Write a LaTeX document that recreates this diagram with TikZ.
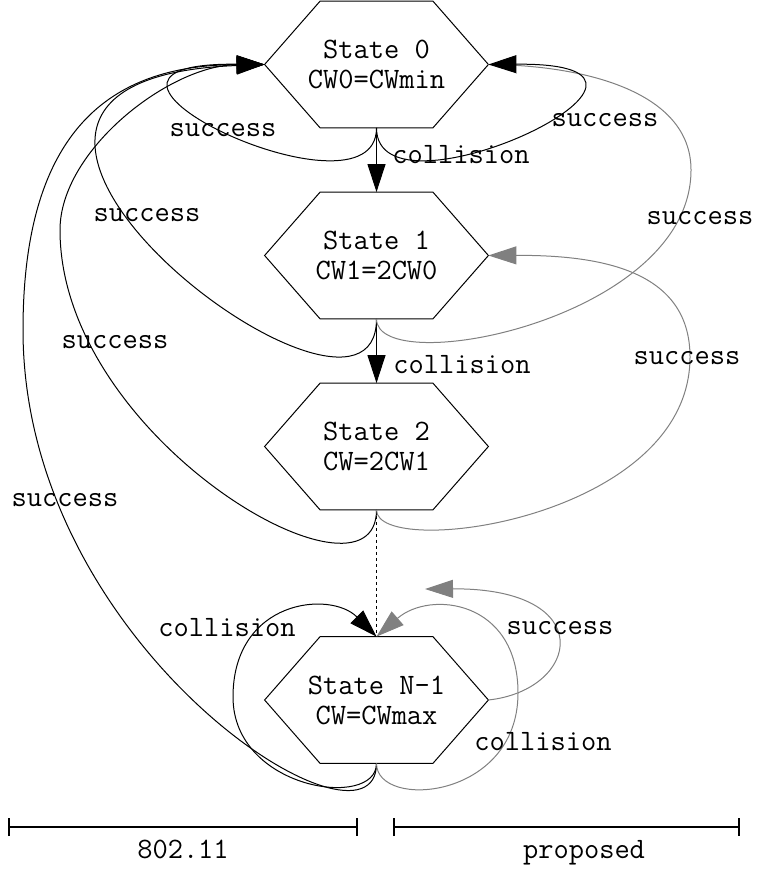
\documentclass[tikz,border=0pt]{standalone}
\usetikzlibrary{arrows.meta}
\tikzset{hexstate/.style={shape=rectangle, minimum width=111.5pt, minimum height=63pt, inner sep=0pt, align=center, font=\ttfamily\fontsize{14.8}{15}\selectfont},
  edgelabel/.style={inner sep=0pt, font=\ttfamily\fontsize{14.8}{15}\selectfont},
  trans/.style={draw=black, line width=0.5pt},
  newtrans/.style={draw=gray, line width=0.5pt},
  bigtip/.style={-{Triangle[length=14pt,width=9pt]}},
  scalebar/.style={draw=black, line width=1pt, {Bar[width=9pt]}-{Bar[width=9pt]}}}

\begin{document}
\begin{tikzpicture}[x=0.5pt, y=-0.5pt]
    \useasboundingbox (0,0) rectangle (756,870);
    \node[hexstate] (s0) at (376.5,64.5) {State 0\\CW0=CWmin};
    \node[hexstate] (s1) at (376.5,255.5) {State 1\\CW1=2CW0};
    \node[hexstate] (s2) at (376.5,446.5) {State 2\\CW=2CW1};
    \node[hexstate] (sN) at (376.5,700) {State N-1\\CW=CWmax};
    \foreach \s in {s0,s1,s2,sN}
      \draw[trans] ([xshift=27.75pt]\s.north west) -- ([xshift=-27.75pt]\s.north east) -- (\s.east)
        -- ([xshift=-27.75pt]\s.south east) -- ([xshift=27.75pt]\s.south west) -- (\s.west) -- cycle;

    % 802.11
    \draw[trans, bigtip] (s0.south) -- (s1.north);
    \draw[trans, bigtip] (s1.south) -- (s2.north);
    \draw[trans, dash pattern=on 1.5pt off 1.5pt] (s2.south) -- (sN.north);
    \draw[trans, bigtip] (s0.south) .. controls (376.5,230) and (20,62) .. (s0.west);
    \draw[trans, bigtip] (s1.south) .. controls (376.5,480) and (-150,80) .. (s0.west);
    \draw[trans, bigtip] (s2.south) .. controls (376.5,620) and (60,440) .. (60,230)
      .. controls (60,150) and (170,65) .. (s0.west);
    \draw[trans, bigtip] (sN.south) .. controls (376.5,870) and (23,650) .. (23,330)
      .. controls (23,120) and (120,65) .. (s0.west);
    \draw[trans, bigtip] (sN.south) .. controls (376.5,810) and (233,790) .. (233,697)
      .. controls (233,600) and (330,590) .. (sN.north);

    % proposed
    \draw[newtrans] (s1.south) .. controls (376.5,380) and (691,320) .. (691,170)
      .. controls (691,90) and (580,65) .. (s0.east);
    \draw[trans, bigtip] (s0.south) .. controls (376.5,230) and (733,62) .. (s0.east);
    \draw[newtrans, bigtip] (s2.south) .. controls (376.5,560) and (690,520) .. (690,357)
      .. controls (690,270) and (600,255) .. (s1.east);
    \coordinate (back) at (425,589);
    \draw[newtrans, bigtip] (sN.east) .. controls (580,690) and (600,588) .. (back);
    \draw[newtrans, bigtip] (sN.south) .. controls (376.5,810) and (518,800) .. (518,693)
      .. controls (518,600) and (430,590) .. (sN.north);

    \node[edgelabel] (c01) at (461,155) {collision};
    \node[edgelabel] (c12) at (462,365) {collision};
    \node[edgelabel] (s00) at (223,130) {success};
    \node[edgelabel] (s10) at (147,215) {success};
    \node[edgelabel] (s20) at (115,342) {success};
    \node[edgelabel] (sN0) at (65,500) {success};
    \node[edgelabel] (cNN) at (227,628) {collision};
    \node[edgelabel] (p00) at (605,120) {success};
    \node[edgelabel] (p10) at (700,218) {success};
    \node[edgelabel] (p21) at (687,358) {success};
    \node[edgelabel] (pNs) at (560,628) {success};
    \node[edgelabel] (pNc) at (543,742) {collision};

    \coordinate (oldl) at (8,827);
    \coordinate (oldr) at (358,827);
    \coordinate (newl) at (393,827);
    \coordinate (newr) at (740,827);
    \draw[scalebar] (oldl) -- (oldr);
    \draw[scalebar] (newl) -- (newr);
    \node[edgelabel, anchor=base] (oldlbl) at (183,858) {802.11};
    \node[edgelabel, anchor=base] (newlbl) at (584,858) {proposed};
\end{tikzpicture}
\end{document}
